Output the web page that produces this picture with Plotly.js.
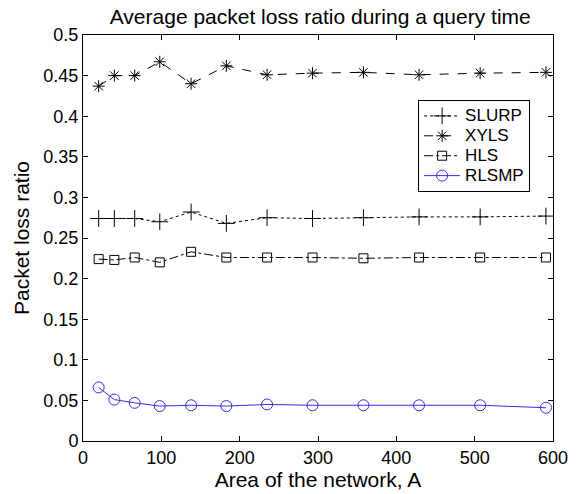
<!DOCTYPE html>
<html>
<head>
<meta charset="utf-8">
<script src="https://cdn.plot.ly/plotly-3.0.1.min.js"></script>
<style>
  html, body { margin: 0; padding: 0; background: #fff; }
  #chart { width: 577px; height: 494px; }
</style>
</head>
<body>
<div id="chart"></div>
<script>
// Network area values (x axis)
const area = [20, 40, 66, 98, 138, 183, 235, 293, 358, 429, 507, 591];

// Packet loss ratio per protocol
const slurp = [0.274, 0.274, 0.274, 0.270, 0.282, 0.268, 0.275, 0.274, 0.275, 0.276, 0.276, 0.277];
const xyls  = [0.437, 0.450, 0.450, 0.467, 0.440, 0.462, 0.451, 0.453, 0.454, 0.451, 0.453, 0.454];
const hls   = [0.224, 0.223, 0.226, 0.220, 0.233, 0.226, 0.226, 0.226, 0.225, 0.226, 0.226, 0.226];
const rlsmp = [0.066, 0.051, 0.047, 0.043, 0.044, 0.043, 0.045, 0.044, 0.044, 0.044, 0.044, 0.041];

const seriesNames = ['SLURP', 'XYLS', 'HLS', 'RLSMP'];

const xTicks = [0, 100, 200, 300, 400, 500, 600];
const yTicks = [0, 0.05, 0.1, 0.15, 0.2, 0.25, 0.3, 0.35, 0.4, 0.45, 0.5];

const fontFamily = 'Liberation Sans, Arial, Helvetica, sans-serif';

// Legend rows are spaced by the (smaller) legend font; the label itself is drawn larger.
function legendLabel(name) {
  return '<span style="font-size:17px">' + name + '</span>';
}

function series(name, y, dash, symbol, color, size) {
  return {
    x: area, y: y, name: legendLabel(name), type: 'scatter', mode: 'lines+markers',
    line: { color: color, width: 1, dash: dash },
    marker: { symbol: symbol, size: size, color: color, line: { color: color, width: 1 } }
  };
}

const data = [
  series(seriesNames[0], slurp, 'dot', 'cross-thin-open', '#000000', 12),
  series(seriesNames[1], xyls, 'dash', 'asterisk-open', '#000000', 10),
  series(seriesNames[2], hls, 'dashdot', 'square-open', '#000000', 9),
  series(seriesNames[3], rlsmp, 'solid', 'circle-open', '#3232dc', 11)
];

const axisCommon = {
  showgrid: false, zeroline: false,
  showline: true, linecolor: '#000', linewidth: 1, mirror: 'ticks',
  ticks: 'inside', ticklen: 5, tickcolor: '#000', tickwidth: 1,
  tickfont: { family: fontFamily, size: 18, color: '#000' }
};

const layout = {
  width: 577, height: 494,
  margin: { l: 83, r: 24, t: 35, b: 53 },
  paper_bgcolor: '#fff', plot_bgcolor: '#fff',
  font: { family: fontFamily, color: '#000' },
  title: {
    text: 'Average packet loss ratio during a query time',
    font: { family: fontFamily, size: 21, color: '#000' },
    x: 0.555, xanchor: 'center', y: 0.966, yanchor: 'middle'
  },
  xaxis: Object.assign({}, axisCommon, {
    range: [0, 600], tickvals: xTicks, ticktext: xTicks.map(String),
    title: { text: 'Area of the network, A', font: { family: fontFamily, size: 21, color: '#000' }, standoff: 4 }
  }),
  yaxis: Object.assign({}, axisCommon, {
    range: [0, 0.5], tickvals: yTicks, ticktext: yTicks.map(v => String(v)),
    title: { text: 'Packet loss ratio', font: { family: fontFamily, size: 21, color: '#000' }, standoff: 8 }
  }),
  legend: {
    x: 0.713, y: 0.84, xanchor: 'left', yanchor: 'top',
    bgcolor: '#fff', bordercolor: '#000', borderwidth: 1,
    font: { family: fontFamily, size: 13, color: '#000' },
    tracegroupgap: 0, itemwidth: 36
  },
  showlegend: true
};

Plotly.newPlot('chart', data, layout, { displayModeBar: false, staticPlot: true });
</script>
</body>
</html>
